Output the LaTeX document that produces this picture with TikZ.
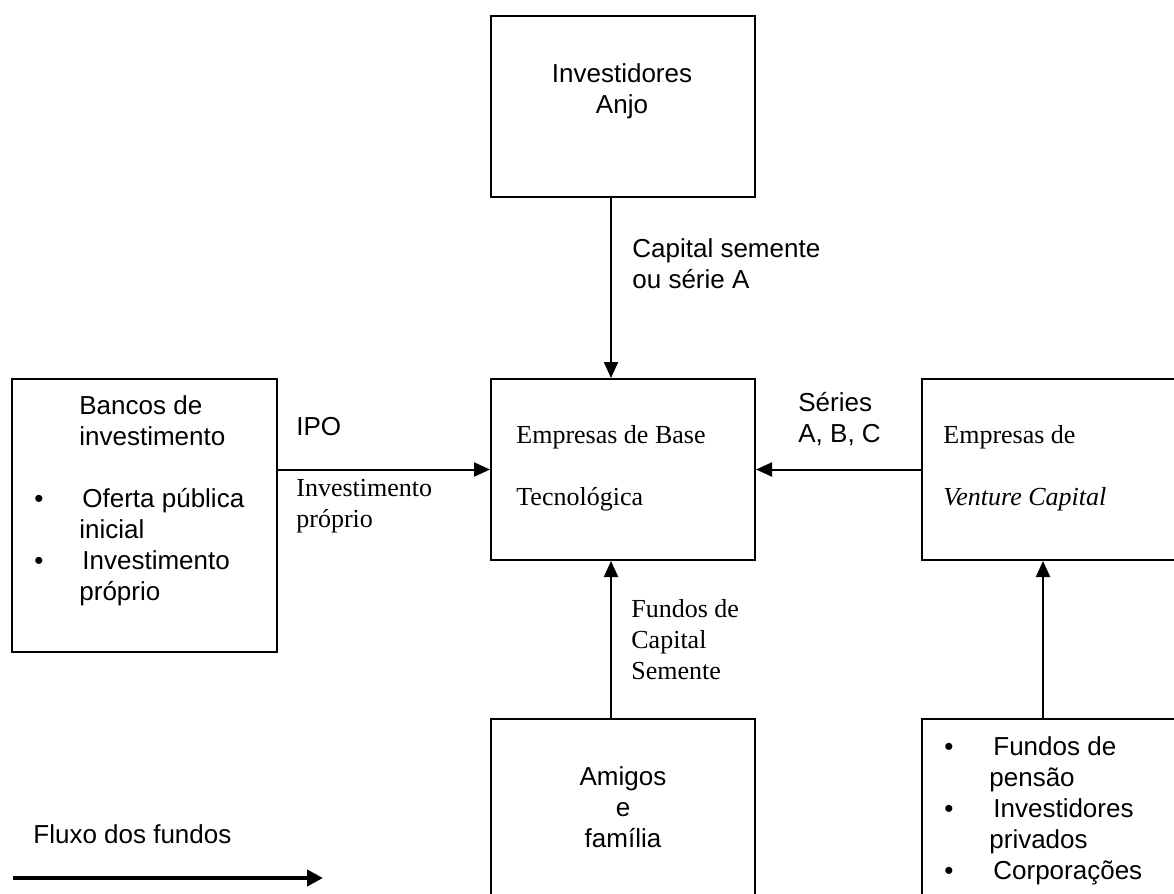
\documentclass[tikz,border=0pt]{standalone}
\usepackage{fontspec}
\setmainfont{Liberation Serif}
\newfontfamily\arialfont{Liberation Sans}
\usetikzlibrary{arrows.meta}

\begin{document}
\begin{tikzpicture}[x=0.5pt, y=-0.5pt,
  box/.style={draw=black, line width=1pt, minimum width=132pt, minimum height=90.5pt, inner sep=0pt},
  sans/.style={font=\arialfont\fontsize{13}{15.5}\selectfont, inner sep=0pt},
  serif/.style={font=\fontsize{13}{15.5}\selectfont, inner sep=0pt},
  arr/.style={-{Triangle[length=8pt,width=7pt]}, line width=1pt}]

\useasboundingbox (0,0) rectangle (1174,894);
\clip (0,0) rectangle (1174,894);

\node[box] at (623,106.5) (anjo) {};
\node[box] at (623,469.5) (base) {};
\node[box, minimum width=132.5pt, minimum height=136.5pt] at (144.5,515.5) (bancos) {};
\node[box] at (1054,469.5) (vc) {};
\node[box, minimum height=100pt] at (623,819) (amigos) {};
\node[box, minimum height=100pt] at (1054,819) (fundos) {};

\node[sans, align=center, anchor=north] at (622,63) (anjotxt) {Investidores\\Anjo};
\node[sans, align=left, anchor=north west] at (632,238) (sementelbl) {Capital semente\\ou série A};
\node[sans, align=left, anchor=north west] at (34,395) (bancostxt)
  {\hspace*{22.5pt}Bancos de\\\hspace*{22.5pt}investimento\\[15.5pt]\makebox[24pt][l]{\textbullet}Oferta pública\\\hspace*{22.5pt}inicial\\\makebox[24pt][l]{\textbullet}Investimento\\\hspace*{22.5pt}próprio};
\node[sans, anchor=north west] at (296,417) (ipolbl) {IPO};
\node[serif, align=left, anchor=north west] at (296,479) (proprlbl) {Investimento\\próprio};
\node[serif, align=left, anchor=north west] at (516,425) (basetxt) {Empresas de Base\\[15.5pt]Tecnológica};
\node[sans, align=left, anchor=north west] at (798,392) (serieslbl) {Séries\\A, B, C};
\node[serif, align=left, anchor=north west] at (943,425) (vctxt) {Empresas de\\[15.5pt]\textit{Venture Capital}};
\node[serif, align=left, anchor=north west] at (631,599) (fundoslbl) {Fundos de\\Capital\\Semente};
\node[sans, align=center, anchor=north] at (623,766) (amigostxt) {Amigos\\e\\família};
\node[sans, align=left, anchor=north west] at (944,736) (fundostxt)
  {\makebox[24.5pt][l]{\textbullet}Fundos de\\\hspace*{22.5pt}pensão\\\makebox[24.5pt][l]{\textbullet}Investidores\\\hspace*{22.5pt}privados\\\makebox[24.5pt][l]{\textbullet}Corporações};
\node[sans, anchor=base west] at (33,843) (legtxt) {Fluxo dos fundos};
\coordinate (legA) at (13,878);
\coordinate (legB) at (323,878);

\draw[arr] ([xshift=-6pt]anjo.south)--([xshift=-6pt]base.north);
\draw[arr] (bancos.east |- base.west)--(base.west); \draw[arr] (vc.west)--(base.east);
\draw[arr] ([xshift=-6pt]amigos.north)--([xshift=-6pt]base.south);
\draw[arr] ([xshift=-5.5pt]fundos.north)--([xshift=-5.5pt]vc.south);
\draw[-{Triangle[length=8pt,width=8pt]}, line width=2pt] (legA)--(legB);
\end{tikzpicture}
\end{document}
